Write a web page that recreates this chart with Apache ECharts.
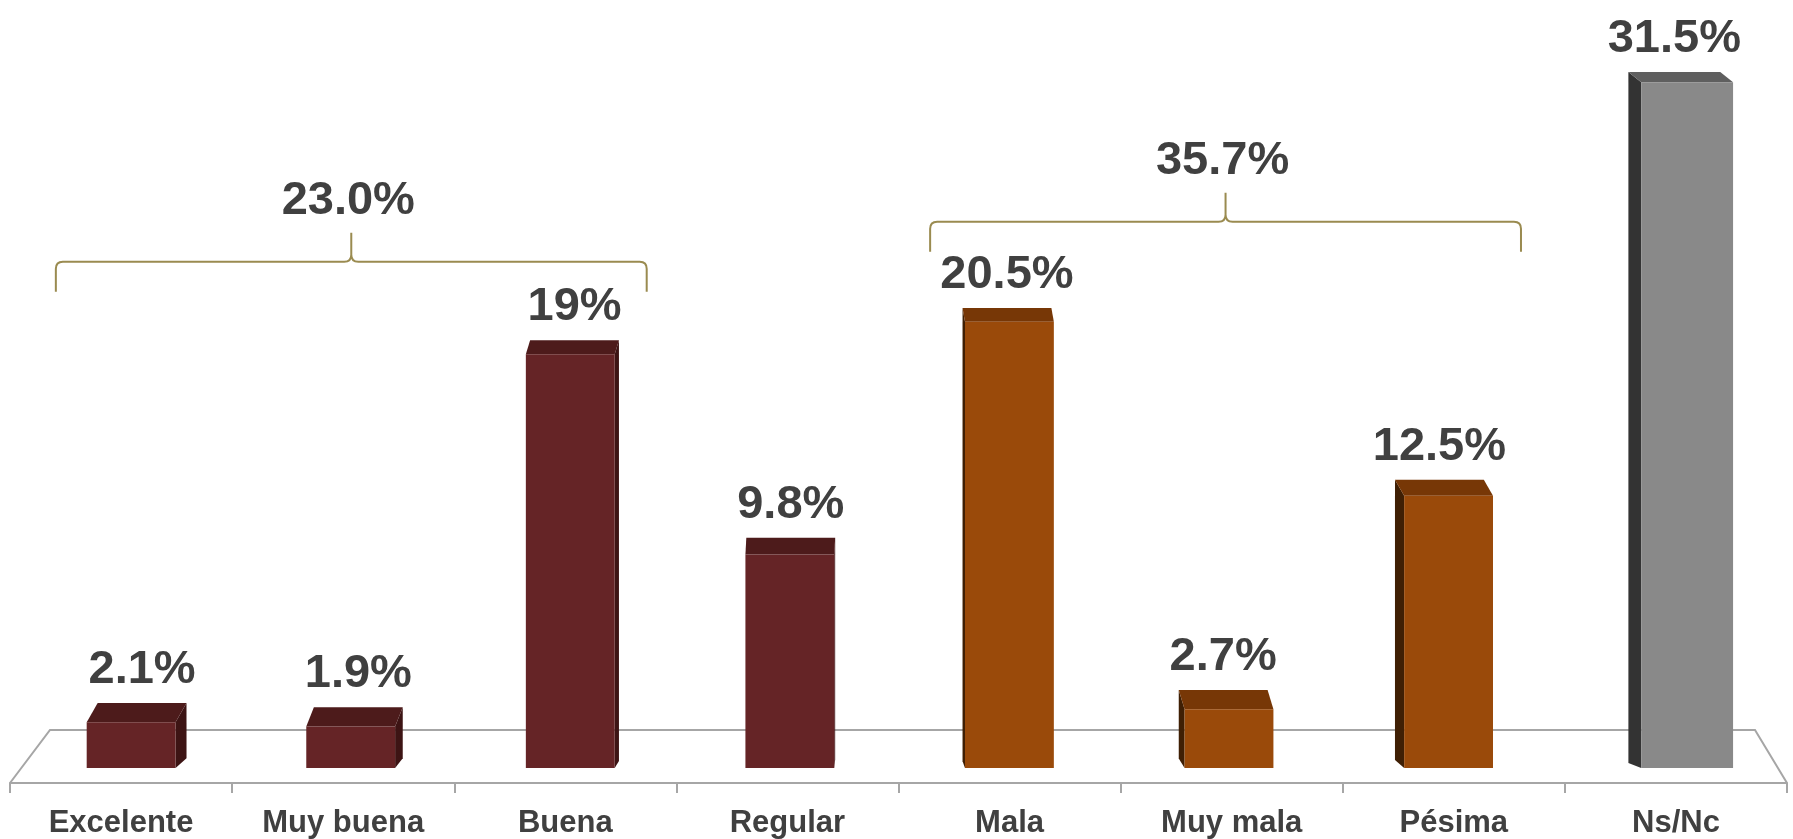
<!DOCTYPE html>
<html><head><meta charset="utf-8">
<script src="https://cdn.jsdelivr.net/npm/echarts@6/dist/echarts.min.js"></script>
<style>html,body{margin:0;padding:0;background:#fff}#c{width:1793px;height:839px}</style>
</head><body><div id="c"></div>
<script>
const categories = ['Excelente', 'Muy buena', 'Buena', 'Regular', 'Mala', 'Muy mala', 'Pésima', 'Ns/Nc'];
const values = [2.1, 1.9, 19, 9.8, 20.5, 2.7, 12.5, 31.5];
const valueLabels = ['2.1%', '1.9%', '19%', '9.8%', '20.5%', '2.7%', '12.5%', '31.5%'];
const barGroup = ['buena', 'buena', 'buena', 'buena', 'mala', 'mala', 'mala', 'nsnc'];
const groupLabels = ['23.0%', '35.7%'];
const groupFirst = [0, 4];
const groupLast = [2, 6];

const palette = {
  buena: { front: '#652426', top: '#4d1b1b', side: '#3d1414', widen: 0, shift: 0 },
  mala: { front: '#9a4a0a', top: '#773706', side: '#3f1f04', widen: 0, shift: 0 },
  nsnc: { front: '#898989', top: '#5f5f5f', side: '#333333', widen: 3, shift: 19 }
};
const textColor = '#404040';
const braceColor = '#9a8b50';
const floorColor = '#a6a6a6';
const FONT = '"Liberation Sans", Arial, sans-serif';

const chart = echarts.init(document.getElementById('c'), null, { renderer: 'canvas' });

function vanishX(cs) { return cs.x + cs.width * 0.472; }
function floorGeom(cs, api) {
  const front = cs.y + cs.height;
  const base = api.coord([0, 0])[1];
  const back = base - 38;
  const l = cs.x, r = cs.x + cs.width;
  return { front: front, back: back, l: l, r: r, bl: l + 40, br: r - 32 };
}
function onFloorX(g, c, y) {
  const t = (g.front - y) / (g.front - g.back);
  const bx = g.bl + (c - g.l) * (g.br - g.bl) / (g.r - g.l);
  return c + t * (bx - c);
}

const option = {
  animation: false,
  backgroundColor: '#ffffff',
  grid: { left: 10, right: 6, top: 6, bottom: 56 },
  xAxis: {
    type: 'category',
    data: categories,
    boundaryGap: true,
    axisLine: { show: true, onZero: false, lineStyle: { color: floorColor, width: 2 } },
    axisTick: { show: true, alignWithLabel: false, length: 10, lineStyle: { color: floorColor, width: 2 } },
    axisLabel: { show: true, color: textColor, fontWeight: 'bold', fontSize: 31, fontFamily: FONT, margin: 25 },
    splitLine: { show: false }
  },
  yAxis: { type: 'value', min: -0.69, max: 35, show: false },
  series: [
    {
      type: 'custom',
      name: 'floor',
      silent: true,
      z: 1,
      data: [[0, 0]],
      renderItem: function (params, api) {
        const g = floorGeom(params.coordSys, api);
        return {
          type: 'polyline',
          shape: { points: [[g.l, g.front], [g.bl, g.back], [g.br, g.back], [g.r, g.front]] },
          style: { stroke: floorColor, lineWidth: 2, fill: null }
        };
      }
    },
    {
      type: 'custom',
      name: 'bars',
      z: 3,
      data: values.map((v, i) => [i, v]),
      renderItem: function (params, api) {
        const cs = params.coordSys;
        const g = floorGeom(cs, api);
        const i = api.value(0), v = api.value(1);
        const c = palette[barGroup[i]];
        const topPt = api.coord([i, v]);
        const basePt = api.coord([i, 0]);
        const band = api.size([1, 0])[0];
        const w = band * 0.4 + c.widen;
        const yt = topPt[1], yb = basePt[1];
        const cx = onFloorX(g, topPt[0], yb) + c.shift;
        const x0 = cx - w / 2, x1 = cx + w / 2;
        const frac = (yb - yt) / (yb - cs.y);
        const dy = 20 - 11 * frac;
        const dx = (vanishX(cs) - cx) * 0.0153;
        const children = [];
        const sx = dx >= 0 ? x1 : x0;
        children.push({
          type: 'polygon',
          shape: { points: [[sx, yt], [sx + dx, yt - dy], [sx + dx, yb - dy * 0.5], [sx, yb]] },
          style: { fill: c.side }
        });
        children.push({
          type: 'polygon',
          shape: { points: [[x0, yt], [x1, yt], [x1 + dx, yt - dy], [x0 + dx, yt - dy]] },
          style: { fill: c.top }
        });
        children.push({
          type: 'rect',
          shape: { x: x0, y: yt, width: w, height: yb - yt },
          style: { fill: c.front }
        });
        children.push({
          type: 'text',
          x: cx + dx,
          y: yt - dy - 33,
          style: {
            text: valueLabels[i], fill: textColor, fontSize: 47, fontWeight: 'bold',
            fontFamily: FONT, align: 'center', verticalAlign: 'middle'
          }
        });
        return { type: 'group', children: children };
      }
    },
    {
      type: 'custom',
      name: 'braces',
      z: 4,
      silent: true,
      data: groupFirst.map((f, k) => [f, groupLast[k], k]),
      renderItem: function (params, api) {
        const cs = params.coordSys;
        const f = api.value(0), l = api.value(1), k = api.value(2);
        const band = api.size([1, 0])[0];
        const cf = api.coord([f, 0])[0], cl = api.coord([l, 0])[0];
        const cmid = (cf + cl) / 2;
        const shift = (vanishX(cs) - cmid) * 0.016;
        const half = (cl - cf) / 2 + band * 0.33;
        const xc = cmid + shift;
        const xa = xc - half, xb = xc + half;
        let mx = 0;
        for (let j = f; j <= l; j++) mx = Math.max(mx, values[j]);
        const yl = api.coord([0, mx * 1.224])[1];
        const rr = 7;
        const d = [
          'M', xa, yl + 30, 'L', xa, yl + rr, 'Q', xa, yl, xa + rr, yl,
          'L', xc - rr, yl, 'Q', xc, yl, xc, yl - rr, 'L', xc, yl - 29,
          'M', xc, yl - rr, 'Q', xc, yl, xc + rr, yl,
          'L', xb - rr, yl, 'Q', xb, yl, xb, yl + rr, 'L', xb, yl + 30
        ].join(' ');
        return {
          type: 'group',
          children: [
            { type: 'path', shape: { pathData: d }, style: { stroke: braceColor, lineWidth: 2, fill: null } },
            {
              type: 'text', x: xc - 3, y: yl - 61,
              style: {
                text: groupLabels[k], fill: textColor, fontSize: 47, fontWeight: 'bold',
                fontFamily: FONT, align: 'center', verticalAlign: 'middle'
              }
            }
          ]
        };
      }
    }
  ]
};
chart.setOption(option);
</script>
</body></html>
